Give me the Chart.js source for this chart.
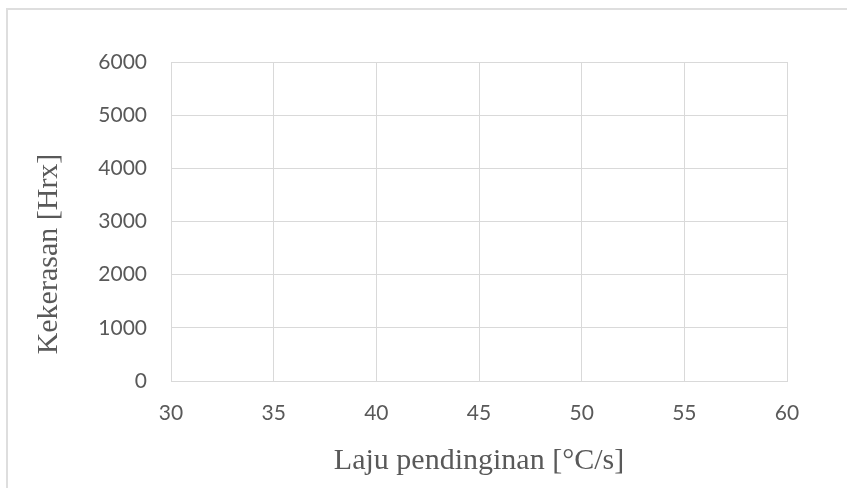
<!DOCTYPE html>
<html>
<head>
<meta charset="utf-8">
<script src="https://cdn.jsdelivr.net/npm/chart.js@4.4.0/dist/chart.umd.min.js"></script>
<style>
  html, body { margin: 0; padding: 0; background: #fff; }
  #wrap { position: relative; width: 847px; height: 488px; overflow: hidden; }
  #frame { position: absolute; left: 6px; top: 8px; width: 1000px; height: 700px; border: 2px solid #dedede; }
  #chart { position: absolute; left: 0; top: 0; }
</style>
</head>
<body>
<div id="wrap">
  <div id="frame"></div>
  <canvas id="chart" width="847" height="488"></canvas>
</div>
<script>
// no data points in the picture, only the empty axes
const coolingRate = [];
const hardness = [];
const xTickValues = [30, 35, 40, 45, 50, 55, 60];
const yTickValues = [0, 1000, 2000, 3000, 4000, 5000, 6000];
const xTitle = 'Laju pendinginan [°C/s]';
const yTitle = 'Kekerasan [Hrx]';

const gridColor = '#d9d9d9';
const textColor = '#595959';
const titleFont = '30px "Liberation Serif"';

// y title sits lower than the plot middle in the original, so draw it by hand
const yTitlePlugin = {
  id: 'yTitle',
  afterDraw(chart) {
    const c = chart.ctx;
    c.save();
    c.translate(49, 254);
    c.rotate(-Math.PI / 2);
    c.fillStyle = textColor;
    c.font = titleFont;
    c.textAlign = 'center';
    c.textBaseline = 'middle';
    c.fillText(yTitle, 0, 0);
    c.restore();
  }
};

const ctx = document.getElementById('chart').getContext('2d');
new Chart(ctx, {
  type: 'scatter',
  data: {
    datasets: [{
      label: 'Kekerasan',
      data: coolingRate.map((x, i) => ({ x: x, y: hardness[i] })),
      borderColor: '#4472c4',
      backgroundColor: '#4472c4'
    }]
  },
  options: {
    responsive: false,
    animation: false,
    layout: { padding: { top: 62, right: 60, left: 0, bottom: 0 } },
    plugins: {
      legend: { display: false },
      tooltip: { enabled: false }
    },
    scales: {
      x: {
        type: 'linear',
        min: xTickValues[0],
        max: xTickValues[xTickValues.length - 1],
        afterBuildTicks: s => { s.ticks = xTickValues.map(v => ({ value: v })); },
        afterFit: s => { s.height = 107; },
        grid: { color: gridColor, drawTicks: false, lineWidth: 1 },
        border: { color: gridColor, width: 1 },
        ticks: { color: textColor, padding: 20, font: { family: 'Lato', size: 21 }, callback: v => String(v) },
        title: {
          display: true,
          text: xTitle,
          color: textColor,
          font: { family: 'Liberation Serif', size: 30 },
          padding: { bottom: 9 }
        }
      },
      y: {
        type: 'linear',
        min: yTickValues[0],
        max: yTickValues[yTickValues.length - 1],
        afterBuildTicks: s => { s.ticks = yTickValues.map(v => ({ value: v })); },
        afterFit: s => { s.width = 171; },
        grid: { color: gridColor, drawTicks: false, lineWidth: 1 },
        border: { color: gridColor, width: 1 },
        ticks: { color: textColor, padding: 24, font: { family: 'Lato', size: 21 }, callback: v => String(v) },
        title: { display: false }
      }
    }
  },
  plugins: [yTitlePlugin]
});
</script>
</body>
</html>
